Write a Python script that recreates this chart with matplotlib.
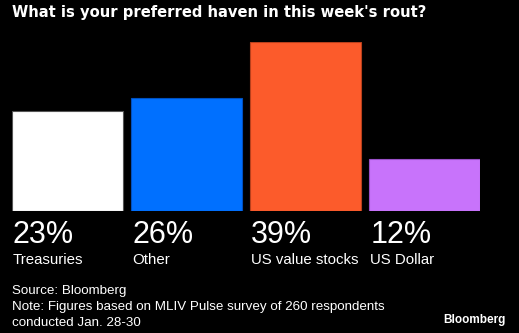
import matplotlib
matplotlib.use("Agg")
import matplotlib.pyplot as plt

categories = ["Treasuries", "Other", "US value stocks", "US Dollar"]
values = [23, 26, 39, 12]
colors = ["#ffffff", "#0070ff", "#fc5b2b", "#c873fb"]
edges = ["#555555", "#0050c0", "#b8401c", "#9a50c8"]
title = "What is your preferred haven in this week's rout?"
source = "Source: Bloomberg"
note_lines = ["Note: Figures based on MLIV Pulse survey of 260 respondents",
              "conducted Jan. 28-30"]

W, H = 519, 333
fig = plt.figure(figsize=(W / 100, H / 100), dpi=100, facecolor="black")

x0, x1 = 12, 480
ytop, ybot = 42, 210.7
ax = fig.add_axes([x0 / W, 1 - ybot / H, (x1 - x0) / W, (ybot - ytop) / H])
ax.set_facecolor("black")
width = 0.93
ax.bar(range(len(values)), values, width=width, color=colors, edgecolor=edges, linewidth=0.8)
ax.set_xlim(-width / 2, len(values) - 1 + width / 2)
ax.set_ylim(0, max(values))
ax.axis("off")

body = "Liberation Sans"
fig.text(12 / W, 1 - 13 / H, title, color="white", fontsize=10.6, fontweight="bold",
         family="DejaVu Sans", va="center", ha="left")

for i, (c, v) in enumerate(zip(categories, values)):
    px = ax.transData.transform((i - width / 2, 0))[0]
    fig.text(px / W + 1 / W, 1 - 235 / H, f"{v}%", color="white", fontsize=22,
             family=body, va="center", ha="left")
    fig.text(px / W + 1 / W, 1 - 260 / H, c, color="white", fontsize=10.8,
             family=body, va="center", ha="left")

fig.text(12 / W, 1 - 291 / H, source, color="white", fontsize=9.6, family=body,
         va="center", ha="left")
for k, line in enumerate(note_lines):
    fig.text(12 / W, 1 - (307 + 15.5 * k) / H, line, color="white", fontsize=9.6,
             family=body, va="center", ha="left")
fig.text(506 / W, 1 - 320 / H, "Bloomberg", color="white", fontsize=8.5, fontweight="bold",
         family=body, va="center", ha="right")

fig.savefig("out.png", dpi=100, facecolor="black")
